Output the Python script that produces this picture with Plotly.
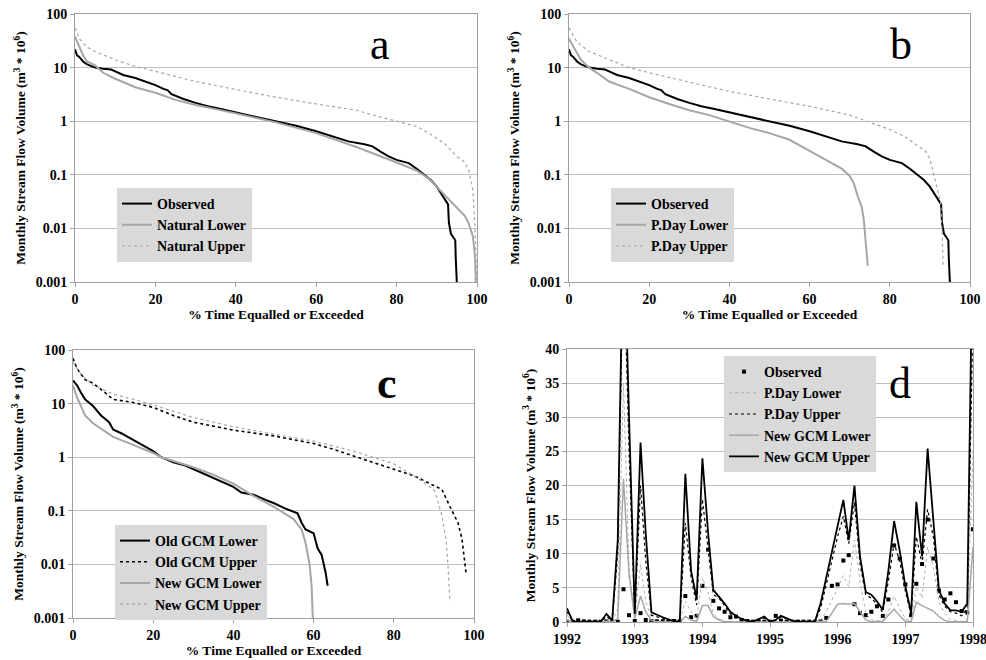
import pandas as pd
import plotly.graph_objects as go
from plotly.subplots import make_subplots

# ---- flow duration curves (% time exceeded, volume in m3 * 10^6) ----
obs_x = [0, 0.5, 1, 2, 3, 5, 7, 9, 10, 12, 15, 18, 20, 22, 23, 24, 27, 30, 33, 36, 40, 45, 50, 55,
         60, 65, 68, 72, 74, 76, 78, 80, 83, 85, 87, 88.5, 90, 91, 92.5, 92.8, 93, 93.5, 94, 94.6, 94.7, 95.0]
obs_y = [22, 17, 16, 13, 11.5, 10, 9.5, 9.2, 8.5, 7.3, 6.4, 5.4, 4.7, 4.0, 3.8, 3.2, 2.6, 2.2, 1.9, 1.7,
         1.45, 1.2, 1.0, 0.82, 0.65, 0.5, 0.42, 0.37, 0.34, 0.27, 0.22, 0.19, 0.165, 0.13, 0.1, 0.08,
         0.06, 0.045, 0.03, 0.028, 0.013, 0.008, 0.007, 0.006, 0.003, 0.0009]

nat_low_x = [0, 1, 2, 3, 5, 7, 10, 15, 20, 25, 30, 40, 50, 60, 70, 80, 85, 88, 90, 93, 95, 97, 98, 99, 99.5, 99.7]
nat_low_y = [38, 25, 17, 13, 11, 8, 6.2, 4.3, 3.4, 2.5, 2.0, 1.4, 0.95, 0.6, 0.33, 0.17, 0.12, 0.085,
             0.06, 0.035, 0.025, 0.017, 0.012, 0.007, 0.003, 0.001]
nat_up_x = [0, 1, 3, 5, 10, 15, 20, 30, 40, 50, 60, 70, 75, 80, 85, 88, 92, 95, 97, 98, 99, 99.5, 100]
nat_up_y = [55, 35, 24, 20, 14, 10.5, 8.5, 5.5, 3.9, 2.8, 2.1, 1.6, 1.25, 1.0, 0.8, 0.6, 0.38, 0.22,
            0.17, 0.12, 0.05, 0.01, 0.001]

pday_low_x = [0, 1, 3, 5, 7, 10, 15, 20, 25, 30, 35, 40, 45, 50, 55, 60, 63, 65, 68, 70, 71, 72, 73, 73.5, 74, 74.5]
pday_low_y = [35, 25, 14, 10, 8, 5.5, 4.0, 2.8, 2.1, 1.6, 1.3, 1.0, 0.75, 0.6, 0.45, 0.28, 0.21, 0.17,
              0.13, 0.095, 0.07, 0.04, 0.025, 0.015, 0.005, 0.002]
pday_up_x = [0, 2, 5, 10, 15, 20, 30, 40, 50, 60, 70, 75, 80, 84, 87, 89, 90, 91, 92, 92.7, 93, 93.3]
pday_up_y = [55, 30, 20, 14, 10, 8, 5.3, 3.6, 2.6, 1.9, 1.3, 0.95, 0.7, 0.5, 0.35, 0.27, 0.2, 0.1,
             0.05, 0.03, 0.01, 0.002]

old_low_x = [0, 1, 2, 3, 5, 7, 9, 10, 12, 15, 18, 20, 22, 25, 28, 30, 35, 40, 42, 45, 48, 50, 53, 55,
             56, 57, 58, 60, 61, 62, 63, 63.5]
old_low_y = [27, 22, 16, 12, 9, 6, 4.5, 3.3, 2.8, 2.1, 1.6, 1.3, 1.0, 0.8, 0.7, 0.6, 0.42, 0.28, 0.22,
             0.2, 0.16, 0.14, 0.11, 0.095, 0.09, 0.06, 0.045, 0.038, 0.02, 0.015, 0.007, 0.004]
old_up_x = [0, 1, 3, 5, 8, 10, 15, 20, 25, 30, 40, 50, 60, 65, 70, 75, 80, 85, 88, 90, 92, 94, 96, 97, 97.5, 98]
old_up_y = [70, 45, 28, 24, 16, 12, 10.5, 8.5, 6, 4.5, 3.2, 2.5, 1.8, 1.4, 1.05, 0.8, 0.6, 0.45, 0.35,
            0.3, 0.25, 0.12, 0.06, 0.03, 0.015, 0.007]
new_low_x = [0, 1, 2, 3, 5, 7, 10, 15, 20, 22, 25, 30, 35, 40, 45, 50, 55, 57, 58, 59, 59.5, 59.8]
new_low_y = [22, 13, 9, 6, 4.3, 3.4, 2.4, 1.7, 1.2, 1.0, 0.85, 0.65, 0.47, 0.32, 0.19, 0.12, 0.07,
             0.045, 0.025, 0.01, 0.004, 0.001]
new_up_x = [0, 2, 5, 10, 15, 20, 30, 40, 50, 60, 70, 75, 80, 85, 90, 91, 92, 93, 93.5, 94]
new_up_y = [60, 35, 22, 15, 12, 9.5, 5.5, 3.7, 2.7, 2.0, 1.3, 1.0, 0.75, 0.45, 0.25, 0.15, 0.08, 0.03,
            0.01, 0.002]

# ---- monthly series Jan 1992 - Jan 1998 ----
months = pd.date_range("1992-01-01", periods=73, freq="MS")
d_obs = [0.05, 0.05, 0.25, 0.1, 0.05, 0.05, 0.05, 0.1, 0.1, 0.05, 4.8, 1.0, 0.15, 1.3, 0.3, 0.15, 0.1, 0.1,
         0.1, 0.15, 0.1, 3.8, 0.7, 0.9, 5.3, 10.6, 3.1, 2.0, 1.5, 0.7, 0.8, 0.3, 0.15, 0.05, 0.05, 0.05,
         0.05, 0.9, 0.2, 0.05, 0.05, 0.05, 0.05, 0.05, 0.05, 0.1, 0.6, 5.3, 5.5, 9.0, 9.8, 2.6, 1.3, 1.0,
         1.5, 2.3, 0.9, 3.3, 11.2, 9.3, 5.5, 1.0, 5.6, 8.5, 15.0, 9.3, 4.6, 3.3, 4.2, 2.9, 1.6, 1.4, 13.6]
d_pday_low = [1.0, 0.05, 0.02, 0.02, 0.02, 0.02, 0.02, 0.3, 0.05, 2.0, 35, 8.0, 0.5, 8.5, 3.0, 0.5, 0.1,
              0.1, 0.05, 0.02, 0.02, 3.0, 1.5, 0.5, 6.5, 4.2, 1.3, 0.4, 0.1, 0.05, 0.02, 0.02, 0.02, 0.02,
              0.05, 0.1, 0.02, 0.05, 0.1, 0.05, 0.02, 0.02, 0.02, 0.02, 0.02, 0.3, 1.5, 3.2, 4.9, 6.8, 5.2,
              12.0, 6.0, 1.3, 0.3, 0.2, 0.1, 1.5, 3.8, 2.0, 0.5, 0.1, 5.2, 3.5, 11.0, 8.0, 3.0, 1.2, 0.4,
              0.2, 0.1, 0.3, 25]
d_pday_up = [1.5, 0.1, 0.05, 0.05, 0.05, 0.05, 0.05, 0.8, 0.2, 10, 55, 25, 1.0, 20, 9.0, 1.0, 0.7, 0.5, 0.3,
             0.1, 0.1, 14.5, 6.5, 2.5, 18, 11, 4.0, 3.5, 2.3, 1.2, 0.7, 0.3, 0.1, 0.05, 0.3, 0.6, 0.05, 0.2,
             0.7, 0.5, 0.1, 0.05, 0.05, 0.05, 0.05, 2.0, 5.5, 9.0, 12.5, 15.5, 11.5, 17.5, 8.5, 4.0, 3.5,
             2.6, 1.4, 6.0, 11.5, 9.0, 4.5, 1.0, 12.5, 8.5, 16.5, 12.5, 4.0, 2.3, 1.5, 1.3, 0.9, 2.0, 45]
d_new_low = [0.3, 0.02, 0.01, 0.01, 0.01, 0.01, 0.01, 0.1, 0.02, 0.5, 21, 7.0, 0.5, 3.8, 1.5, 0.2, 0.05,
             0.02, 0.01, 0.01, 0.01, 0.8, 0.3, 0.1, 2.4, 2.4, 0.8, 0.3, 0.05, 0.02, 0.01, 0.01, 0.01, 0.01,
             0.01, 0.02, 0.01, 0.01, 0.02, 0.01, 0.01, 0.01, 0.01, 0.01, 0.01, 0.05, 0.1, 1.3, 2.6, 2.7,
             2.6, 2.7, 1.5, 0.3, 0.05, 0.05, 0.1, 1.0, 1.9, 0.9, 0.1, 0.05, 2.9, 2.4, 2.0, 1.6, 0.8, 0.2,
             0.05, 0.05, 0.05, 0.05, 11]
d_new_up = [2.0, 0.1, 0.05, 0.05, 0.05, 0.05, 0.05, 1.2, 0.25, 12, 60, 30, 1.2, 26.3, 13, 1.4, 1.0, 0.7, 0.4,
            0.1, 0.1, 21.7, 7.5, 3.4, 24, 13, 4.7, 3.7, 2.7, 1.5, 0.9, 0.45, 0.15, 0.05, 0.4, 0.8, 0.05,
            0.3, 0.9, 0.6, 0.2, 0.05, 0.05, 0.05, 0.1, 2.7, 6.6, 10.5, 14.4, 17.9, 12, 20, 9.6, 4.4, 4.0,
            3.0, 1.8, 7.5, 14.8, 10.5, 5.2, 1.3, 17.6, 9.6, 25.4, 14.4, 4.7, 2.7, 1.7, 1.7, 1.5, 2.7, 60]

BLACK = "#000000"
GREY = "#a6a6a6"
SERIF = "Liberation Serif"

fig = make_subplots(rows=2, cols=2)
dom = {
    (1, 1): ([75 / 986, 477 / 986], [1 - 282 / 660, 1 - 14 / 660]),
    (1, 2): ([569 / 986, 970 / 986], [1 - 282 / 660, 1 - 14 / 660]),
    (2, 1): ([73 / 986, 474 / 986], [1 - 618 / 660, 1 - 350 / 660]),
    (2, 2): ([567 / 986, 973 / 986], [1 - 622 / 660, 1 - 349 / 660]),
}


def line(x, y, name, color, width, dash, leg):
    return go.Scatter(x=x, y=y, name=name, mode="lines", legend=leg,
                      line=dict(color=color, width=width, dash=dash))


# panel a
fig.add_trace(line(obs_x, obs_y, "Observed", BLACK, 2, "solid", "legend"), 1, 1)
fig.add_trace(line(nat_low_x, nat_low_y, "Natural Lower", GREY, 2, "solid", "legend"), 1, 1)
fig.add_trace(line(nat_up_x, nat_up_y, "Natural Upper", GREY, 1.2, "dot", "legend"), 1, 1)
# panel b
fig.add_trace(line(obs_x, obs_y, "Observed", BLACK, 2, "solid", "legend2"), 1, 2)
fig.add_trace(line(pday_low_x, pday_low_y, "P.Day Lower", GREY, 2, "solid", "legend2"), 1, 2)
fig.add_trace(line(pday_up_x, pday_up_y, "P.Day Upper", GREY, 1.2, "dot", "legend2"), 1, 2)
# panel c
fig.add_trace(line(old_low_x, old_low_y, "Old GCM Lower", BLACK, 2, "solid", "legend3"), 2, 1)
fig.add_trace(line(old_up_x, old_up_y, "Old GCM Upper", BLACK, 1.6, "dot", "legend3"), 2, 1)
fig.add_trace(line(new_low_x, new_low_y, "New GCM Lower", GREY, 2, "solid", "legend3"), 2, 1)
fig.add_trace(line(new_up_x, new_up_y, "New GCM Upper", GREY, 1.2, "dot", "legend3"), 2, 1)
# panel d
fig.add_trace(go.Scatter(x=months, y=d_obs, name="Observed", mode="markers", legend="legend4",
                         marker=dict(symbol="square", size=4, color=BLACK)), 2, 2)
fig.add_trace(line(months, d_pday_low, "P.Day Lower", "#b0b0b0", 1, "dot", "legend4"), 2, 2)
fig.add_trace(line(months, d_pday_up, "P.Day Upper", BLACK, 1.2, "dot", "legend4"), 2, 2)
fig.add_trace(line(months, d_new_low, "New GCM Lower", GREY, 1.5, "solid", "legend4"), 2, 2)
fig.add_trace(line(months, d_new_up, "New GCM Upper", BLACK, 1.8, "solid", "legend4"), 2, 2)

tick_font = dict(family=SERIF, size=14, color=BLACK, weight="bold")
title_font = dict(family=SERIF, size=13.5, color=BLACK, weight="bold")
ytitle = "Monthly Stream Flow Volume (m<sup>3</sup> * 10<sup>6</sup>)"
axis_common = dict(showline=True, linecolor="#a0a0a0", linewidth=1, mirror=True,
                   ticks="outside", ticklen=4, tickcolor="#a0a0a0", tickfont=tick_font,
                   zeroline=False, automargin=False)

for (r, c), (xd, yd) in dom.items():
    fig.update_xaxes(domain=xd, row=r, col=c, showgrid=False, **axis_common)
    fig.update_yaxes(domain=yd, row=r, col=c, showgrid=True, gridcolor="#bfbfbf", gridwidth=1,
                     title=dict(text=ytitle, font=title_font, standoff=6), **axis_common)
    if (r, c) != (2, 2):
        fig.update_xaxes(range=[0, 100], dtick=20, row=r, col=c,
                         title=dict(text="% Time Equalled or Exceeded", font=title_font, standoff=2))
        fig.update_yaxes(type="log", range=[-3, 2], tickvals=[0.001, 0.01, 0.1, 1, 10, 100],
                         ticktext=["0.001", "0.01", "0.1", "1", "10", "100"], row=r, col=c)

fig.update_xaxes(type="date", range=["1992-01-01", "1998-01-01"], dtick="M12", tickformat="%Y",
                 ticklabeloverflow="allow", row=2, col=2)
fig.update_yaxes(range=[0, 40], dtick=5, row=2, col=2)

leg_common = dict(bgcolor="#d9d9d9", font=dict(family=SERIF, size=14, color=BLACK, weight="bold"),
                  xanchor="left", yanchor="top", tracegroupgap=0, itemwidth=30)
fig.update_layout(
    width=986, height=660, margin=dict(l=0, r=0, t=0, b=0),
    paper_bgcolor="white", plot_bgcolor="white",
    legend=dict(x=117 / 986, y=1 - 188 / 660, **leg_common),
    legend2=dict(x=611 / 986, y=1 - 188 / 660, **leg_common),
    legend3=dict(x=115 / 986, y=1 - 525 / 660, **leg_common),
    legend4=dict(x=724 / 986, y=1 - 356 / 660, **leg_common),
)

# panel letters
for txt, x, y, bold in [("a", 380, 45, False), ("b", 901, 45, False), ("c", 387, 383, True), ("d", 900, 383, False)]:
    fig.add_annotation(text=txt, x=x / 986, y=1 - y / 660, xref="paper", yref="paper",
                       xanchor="center", yanchor="middle", showarrow=False,
                       font=dict(family=SERIF, size=44, color=BLACK, weight="bold" if bold else "normal"))

# drop the default page margin so the figure sits at the window's corner
fig.write_html("out.html", config={"displayModeBar": False},
               post_script="document.body.style.margin='0';")
